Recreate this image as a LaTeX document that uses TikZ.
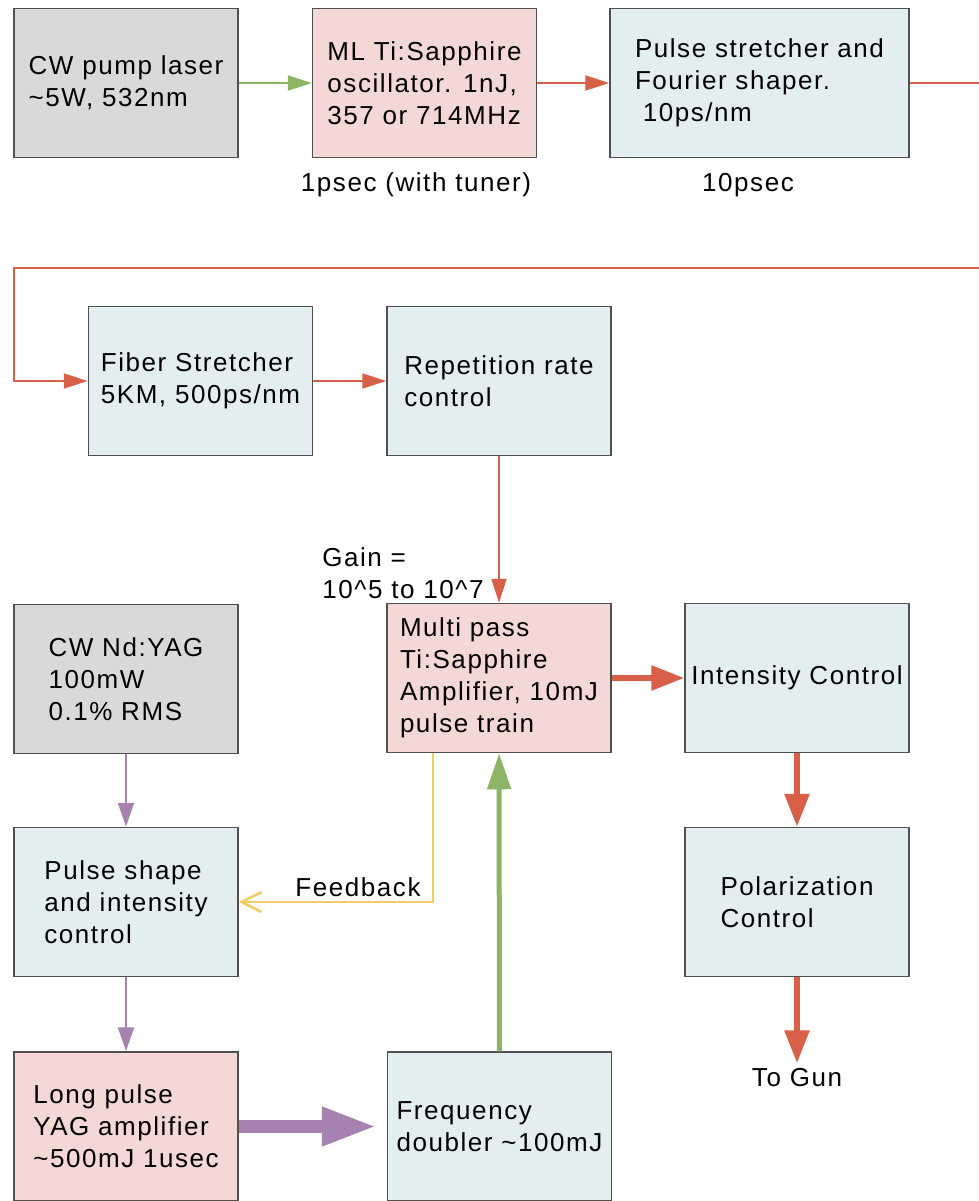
\documentclass[tikz,border=0pt]{standalone}
\usepackage{fontspec}
\setmainfont[LetterSpace=6]{Liberation Sans}
\usetikzlibrary{arrows.meta}

\definecolor{boxedge}{RGB}{80,80,80}
\definecolor{pumpgray}{RGB}{217,217,217}
\definecolor{ampink}{RGB}{243,216,213}
\definecolor{ctlblue}{RGB}{227,238,240}
\definecolor{beamred}{RGB}{217,96,72}
\definecolor{beamgreen}{RGB}{140,180,100}
\definecolor{beampurple}{RGB}{165,130,175}
\definecolor{beamyellow}{RGB}{240,205,100}

\begin{document}
\begin{tikzpicture}[x=1pt,y=-1pt,
    every node/.style={font=\fontsize{26}{32}\selectfont},
    blk/.style={draw=boxedge,line width=1.5pt,minimum width=224pt,minimum height=149pt,align=left,inner sep=2pt},
    thinred/.style={color=beamred,line width=2pt,-{Triangle[length=24pt,width=15pt]}},
    thingreen/.style={color=beamgreen,line width=2pt,-{Triangle[length=24pt,width=15pt]}},
    thinpurple/.style={color=beampurple,line width=2pt,-{Triangle[length=24pt,width=16pt]}},
    boldred/.style={color=beamred,line width=6pt,-{Triangle[length=33pt,width=24pt]}},
    boldgreen/.style={color=beamgreen,line width=5pt,-{Triangle[length=36pt,width=23pt]}},
    fatpurple/.style={color=beampurple,line width=13pt,-{Triangle[length=55pt,width=36pt]},shorten >=10pt},
    feedback/.style={color=beamyellow,line width=2.5pt,-{Straight Barb[length=20pt,width=20pt]}}]
            \useasboundingbox (0,0) rectangle (978,1201);

            % top row
            \node[blk,fill=pumpgray] (pump) at (126,83) {CW pump laser\\\textasciitilde5W, 532nm};
            \node[blk,fill=ampink] (osc) at (424.5,83) {ML Ti:Sapphire\\oscillator. 1nJ,\\357 or 714MHz};
            \node[blk,fill=ctlblue,minimum width=299pt] (shaper) at (759.5,83) {Pulse stretcher and\\Fourier shaper.\\\hspace*{0.3em}10ps/nm};
            \node (tuner) at (416,185) {1psec (with tuner)};
            \node (tenps) at (748,185) {10psec};

            % second row
            \node[blk,fill=ctlblue] (fiber) at (200.5,381) {Fiber Stretcher\\5KM, 500ps/nm};
            \node[blk,fill=ctlblue] (reprate) at (499,381) {Repetition rate\\control};

            % amplifier row
            \node[align=left] (gain) at (403,573) {Gain =\\10\textasciicircum5 to 10\textasciicircum7};
            \node[blk,fill=pumpgray] (ndyag) at (126,679) {CW Nd:YAG\\100mW\\0.1\% RMS};
            \node[blk,fill=ampink] (multipass) at (499,678) {Multi pass\\Ti:Sapphire\\Amplifier, 10mJ\\pulse train};
            \node[blk,fill=ctlblue] (intens) at (797,678) {Intensity Control};

            \node[blk,fill=ctlblue] (pshape) at (126,902) {Pulse shape\\and intensity\\control};
            \node[blk,fill=ctlblue] (polar) at (797,902) {Polarization\\Control};
            \node (fb) at (358,887) {Feedback};
            \node (gun) at (797,1078) {To Gun};

            \node[blk,fill=ampink] (yagamp) at (126,1126.5) {Long pulse\\YAG amplifier\\\textasciitilde500mJ 1usec};
            \node[blk,fill=ctlblue] (doubler) at (499.5,1126.5) {Frequency\\doubler \textasciitilde100mJ};

            % wrap-around of the stretched beam
            \coordinate (wrapA) at (990,83);
            \coordinate (wrapB) at (990,268);
            \coordinate (wrapC) at (14,268);

            \path [thingreen] (pump) edge (osc);
            \path [thinred] (osc) edge (shaper);
            \draw [thinred] (shaper) -- (wrapA) -- (wrapB) -- (wrapC) |- (fiber);
            \path [thinred] (fiber) edge (reprate);
            \path [thinred] (reprate) edge (multipass);

            \path [boldred] (multipass) edge (intens);
            \path [boldred] (intens) edge (polar);
            \path [boldred] (polar) edge[shorten >=2pt] (gun);

            \path [thinpurple] (ndyag) edge (pshape);
            \path [thinpurple] (pshape) edge (yagamp);
            \path [fatpurple] (yagamp) edge (doubler);
            \path [boldgreen] (doubler) edge (multipass);

            \draw [feedback] ([xshift=-66pt]multipass.south) |- (pshape.east);
        \end{tikzpicture}
\end{document}
